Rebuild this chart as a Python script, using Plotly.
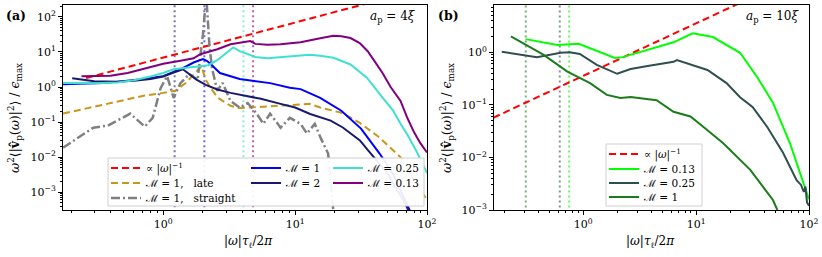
import plotly.graph_objects as go

# ---------------- panel (a): a_p = 4 xi ----------------
a_ref_x = [0.26, 100]
a_ref_y = [1.8, 690]

a_late_x = [0.174, 0.398, 0.708, 1.0, 1.23, 1.48, 1.75, 1.95, 2.1, 2.29, 2.6, 2.82, 3.24, 3.8, 4.57, 5.5, 6.17, 9.12, 12.9, 15.5, 22.9, 30.9, 43.7, 63.1, 77.6, 100]
a_late_y = [0.174, 0.355, 0.56, 0.68, 0.78, 1.3, 2.6, 3.9, 1.6, 0.93, 0.49, 0.40, 0.29, 0.25, 0.26, 0.28, 0.29, 0.31, 0.33, 0.26, 0.18, 0.095, 0.036, 0.0098, 0.0026, 0.0006]

a_str_x = [0.174, 0.295, 0.380, 0.562, 0.724, 0.832, 0.955, 1.07, 1.20, 1.35, 1.58, 1.82, 2.0, 2.12, 2.24, 2.34, 2.57, 2.82, 3.24, 3.80, 4.37, 5.13, 5.75, 6.46, 7.76, 9.12, 11.0, 12.3, 14.1, 15.8, 17.8, 20.0]
a_str_y = [0.0186, 0.069, 0.079, 0.174, 0.074, 0.132, 0.93, 2.04, 0.49, 1.29, 2.34, 1.58, 31.6, 400, 15.8, 3.5, 0.78, 1.3, 0.4, 0.26, 0.35, 0.17, 0.089, 0.174, 0.069, 0.132, 0.089, 0.047, 0.089, 0.032, 0.0126, 0.0001]

a_m1_x = [0.174, 0.355, 0.708, 1.0, 1.35, 1.7, 2.0, 2.14, 2.29, 2.69, 3.8, 6.46, 9.12, 11.0, 15.5, 22.4, 31.6, 43.7, 55.0, 74.0]
a_m1_y = [1.2, 1.29, 1.7, 2.04, 3.2, 5.0, 6.3, 5.6, 4.5, 2.5, 1.7, 1.29, 0.95, 0.87, 0.49, 0.21, 0.065, 0.0126, 0.0034, 0.0003]

a_m2_x = [0.204, 0.30, 0.45, 0.6, 0.8, 1.0, 1.2, 1.41, 1.58, 1.8, 2.1, 2.57, 3.24, 4.37, 5.5, 7.76, 10.0, 13.0, 18.6, 23.0, 26.3, 31.0, 35.5, 43.7, 50.0, 57.5, 66.0, 72.4]
a_m2_y = [1.78, 1.45, 1.42, 1.5, 1.7, 2.0, 2.6, 3.2, 2.3, 1.6, 1.15, 0.85, 0.68, 0.55, 0.46, 0.33, 0.26, 0.17, 0.11, 0.07, 0.047, 0.03, 0.016, 0.0066, 0.0035, 0.0014, 0.0006, 0.0003]

a_m025_x = [0.174, 0.3, 0.45, 0.6, 0.8, 1.0, 1.2, 1.5, 1.91, 2.2, 2.6, 3.0, 3.39, 3.8, 4.37, 5.0, 6.17, 7.76, 9.12, 12.9, 15.5, 19.5, 26.3, 35.0, 46.0, 55.0, 63.0, 72.0, 83.0, 100]
a_m025_y = [1.29, 1.28, 1.35, 1.55, 2.0, 2.5, 3.2, 3.6, 3.9, 4.2, 6.0, 9.5, 13.5, 10.5, 8.5, 7.2, 6.6, 7.0, 7.6, 8.3, 7.8, 6.8, 4.4, 1.85, 0.50, 0.22, 0.089, 0.04, 0.015, 0.0035]

a_m013_x = [0.240, 0.398, 0.537, 0.708, 0.85, 1.0, 1.35, 1.70, 1.91, 2.57, 3.24, 4.0, 4.57, 5.0, 6.17, 7.76, 9.12, 11.0, 15.5, 19.5, 22.4, 26.3, 30.9, 35.5, 40.0, 46.0, 53.0, 63.0, 71.0, 80.0, 89.0, 100]
a_m013_y = [2.04, 2.1, 2.5, 3.3, 4.0, 4.6, 5.6, 6.6, 8.6, 12.0, 16.6, 18.6, 20.5, 17.0, 16.0, 16.6, 17.5, 19.0, 24.5, 29.0, 28.0, 25.0, 18.0, 10.5, 5.5, 2.5, 1.0, 0.4, 0.13, 0.05, 0.025, 0.0135]

a_vline_x = [1.22, 2.05, 4.06, 4.8]

# ---------------- panel (b): a_p = 10 xi ----------------
b_ref_x = [0.16, 100]
b_ref_y = [0.057, 35.5]

b_m013_x = [0.309, 0.589, 0.912, 1.15, 1.5, 1.91, 2.24, 3.72, 6.31, 9.33, 14.1, 24.5, 34.7, 47.9, 67.6, 83.2, 95.5, 100]
b_m013_y = [1.78, 1.38, 1.45, 1.20, 0.95, 0.78, 0.81, 1.10, 1.55, 2.29, 1.95, 0.98, 0.34, 0.11, 0.019, 0.0051, 0.0021, 0.0016]

b_m025_x = [0.19, 0.389, 0.631, 0.759, 0.933, 1.32, 2.0, 2.63, 3.72, 6.31, 6.76, 12.6, 18.6, 24.5, 31.6, 42.7, 58.9, 77.6, 85.0, 90.0, 93.0, 96.0, 100]
b_m025_y = [1.02, 0.81, 0.98, 1.0, 0.93, 0.575, 0.39, 0.48, 0.55, 0.66, 0.71, 0.46, 0.26, 0.14, 0.091, 0.038, 0.0123, 0.0037, 0.003, 0.0022, 0.0028, 0.0014, 0.0012]

b_m1_x = [0.229, 0.447, 0.724, 1.15, 1.62, 2.14, 2.63, 3.16, 3.72, 4.47, 6.31, 8.91, 11.0, 17.4, 30.2, 47.9, 52.5]
b_m1_y = [2.0, 0.89, 0.43, 0.26, 0.155, 0.135, 0.141, 0.135, 0.129, 0.123, 0.074, 0.06, 0.042, 0.0186, 0.0058, 0.00155, 0.001]

b_vline_x = [0.31, 0.62, 0.75]

# ---------------- styling ----------------
FONT = "DejaVu Serif"
RED, GOLD, GRAY = "#ff0000", "#c8961a", "#808080"
BLUE, NAVY, CYAN, PURPLE = "#0000ff", "#191970", "#40e0d0", "#800080"
LIME, SLATE, GREEN = "#00ff00", "#2f4f4f", "#1c7c1c"
M = "ℳ"

fig = go.Figure()

def vlines(xs, colors, xa, ya, yr):
    for v, c in zip(xs, colors):
        fig.add_trace(go.Scatter(x=[v, v], y=yr, mode="lines", xaxis=xa, yaxis=ya,
                                 line=dict(color=c, width=2, dash="2px,3px"), opacity=0.6,
                                 showlegend=False, hoverinfo="skip"))

vlines(a_vline_x, [NAVY, BLUE, CYAN, PURPLE], "x", "y", [1e-4, 1e3])
vlines(b_vline_x, [GREEN, SLATE, LIME], "x2", "y2", [1e-4, 1e2])

def line(x, y, color, name, leg, xa="x", ya="y", dash="solid", width=2):
    fig.add_trace(go.Scatter(x=x, y=y, mode="lines", name=name, legend=leg,
                             xaxis=xa, yaxis=ya,
                             line=dict(color=color, width=width, dash=dash)))

line(a_ref_x, a_ref_y, RED, "∝ |<i>ω</i>|<sup>−1</sup>", "legend", dash="7px,4px")
line(a_late_x, a_late_y, GOLD, M + " = 1,   late", "legend2", dash="7px,4px")
line(a_str_x, a_str_y, GRAY, M + " = 1,   straight", "legend3", dash="9px,3px,2px,3px", width=2.5)
line(a_m1_x, a_m1_y, BLUE, M + " = 1", "legend4")
line(a_m2_x, a_m2_y, NAVY, M + " = 2", "legend5")
line(a_m025_x, a_m025_y, CYAN, M + " = 0.25", "legend6")
line(a_m013_x, a_m013_y, PURPLE, M + " = 0.13", "legend7")

line(b_ref_x, b_ref_y, RED, "∝ |<i>ω</i>|<sup>−1</sup>", "legend8", "x2", "y2", dash="7px,4px")
line(b_m013_x, b_m013_y, LIME, M + " = 0.13", "legend9", "x2", "y2")
line(b_m025_x, b_m025_y, SLATE, M + " = 0.25", "legend10", "x2", "y2")
line(b_m1_x, b_m1_y, GREEN, M + " = 1", "legend11", "x2", "y2")

# geometry (pixels -> paper)
L, R, T, B = 63, 809, 5, 210
W, H = R - L, B - T
px = lambda p: (p - L) / W
py = lambda p: (B - p) / H

def legend_at(xpix, ypix):
    return dict(x=px(xpix), y=py(ypix), xanchor="left", yanchor="middle",
                bgcolor="rgba(0,0,0,0)", borderwidth=0,
                font=dict(family=FONT, size=10.5, color="black"))

legs = {
    "legend": legend_at(106, 168), "legend2": legend_at(106, 183), "legend3": legend_at(106, 198),
    "legend4": legend_at(246, 168), "legend5": legend_at(246, 183),
    "legend6": legend_at(328, 168), "legend7": legend_at(328, 183),
    "legend8": legend_at(604, 154), "legend9": legend_at(604, 169),
    "legend10": legend_at(604, 183), "legend11": legend_at(604, 197),
}

def sup(n):
    return "10<sup>" + (("−" + str(-n)) if n < 0 else str(n)) + "</sup>"

def minor_vals(lo, hi):
    vals = []
    for e in range(lo, hi):
        for k in range(2, 10):
            vals.append(k * 10.0 ** e)
    return vals

axis_common = dict(type="log", showline=True, mirror=True, linecolor="black", linewidth=1,
                   showgrid=False, zeroline=False, ticks="outside", ticklen=4, tickwidth=1,
                   tickcolor="black", tickfont=dict(family=FONT, size=11, color="black"),
                   tickmode="array", automargin=False)

xt = [1, 10, 100]
xtt = [sup(0), sup(1), sup(2)]
fig.update_layout(
    font=dict(family=FONT, color="black"),
    xaxis=dict(axis_common, domain=[0, px(427)], range=[-0.76, 2], tickvals=xt, ticktext=xtt,
               minor=dict(tickmode="array", tickvals=minor_vals(-1, 2), ticks="outside", ticklen=2, tickcolor="black")),
    yaxis=dict(axis_common, range=[-3.51, 2.34], tickvals=[10.0 ** e for e in range(-3, 3)],
               ticktext=[sup(e) for e in range(-3, 3)],
               minor=dict(tickmode="array", tickvals=minor_vals(-4, 3), ticks="outside", ticklen=2, tickcolor="black")),
    xaxis2=dict(axis_common, domain=[px(494), 1], range=[-0.79, 2], tickvals=xt, ticktext=xtt, anchor="y2",
                minor=dict(tickmode="array", tickvals=minor_vals(-1, 2), ticks="outside", ticklen=2, tickcolor="black")),
    yaxis2=dict(axis_common, range=[-3, 0.9], anchor="x2", tickvals=[10.0 ** e for e in range(-3, 1)],
                ticktext=[sup(e) for e in range(-3, 1)],
                minor=dict(tickmode="array", tickvals=minor_vals(-3, 1), ticks="outside", ticklen=2, tickcolor="black")),
    width=822, height=257, margin=dict(l=L, r=822 - R, t=T, b=257 - B),
    paper_bgcolor="white", plot_bgcolor="white", showlegend=True,
    **legs,
)

# legend frames
fig.add_shape(type="rect", xref="paper", yref="paper", x0=px(108), x1=px(424), y0=py(206), y1=py(158),
              fillcolor="rgba(255,255,255,0.92)", line=dict(color="#d0d0d0", width=1), layer="above")
fig.add_shape(type="rect", xref="paper", yref="paper", x0=px(606), x1=px(702), y0=py(206), y1=py(144),
              fillcolor="rgba(255,255,255,0.92)", line=dict(color="#d0d0d0", width=1), layer="above")

ytitle = "<i>ω</i><sup>2</sup>⟨|<b>v̂</b><sub>p</sub>(<i>ω</i>)|<sup>2</sup>⟩ / <i>ϵ</i><sub>max</sub>"
xtitle = "|<i>ω</i>|<i>τ</i><sub>ℓ</sub>/2<i>π</i>"
ann = [
    dict(text=ytitle, x=px(15), y=py(118), textangle=-90, font=dict(size=12.5)),
    dict(text=ytitle, x=px(447), y=py(118), textangle=-90, font=dict(size=12.5)),
    dict(text=xtitle, x=px(248), y=py(242), font=dict(size=12)),
    dict(text=xtitle, x=px(650), y=py(242), font=dict(size=12)),
    dict(text="<b>(a)</b>", x=px(16), y=py(15), font=dict(size=12.5)),
    dict(text="<b>(b)</b>", x=px(448), y=py(15), font=dict(size=12.5)),
    dict(text="<i>a</i><sub>p</sub> = 4<i>ξ</i>", x=px(418), y=py(17), xanchor="right", font=dict(size=12)),
    dict(text="<i>a</i><sub>p</sub> = 10<i>ξ</i>", x=px(801), y=py(17), xanchor="right", font=dict(size=12)),
]
for a in ann:
    a.setdefault("xanchor", "center")
    a["font"] = dict(family=FONT, color="black", size=a["font"]["size"])
    fig.add_annotation(xref="paper", yref="paper", showarrow=False, yanchor="middle", **a)

fig.write_html("out.html", config={"displayModeBar": False},
               post_script="document.body.style.margin='0';document.body.style.overflow='hidden';")
